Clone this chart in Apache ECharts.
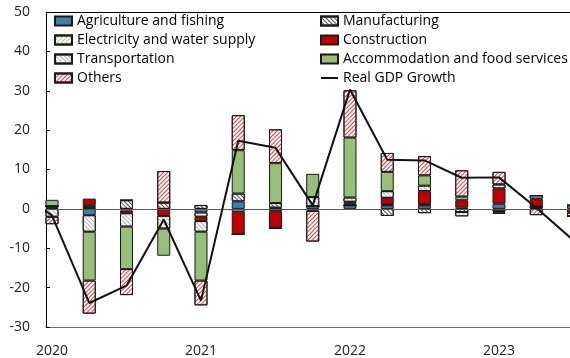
<!DOCTYPE html>
<html>
<head>
<meta charset="utf-8">
<script src="https://cdn.jsdelivr.net/npm/echarts@6/dist/echarts.min.js"></script>
<style>
  html, body { margin: 0; padding: 0; background: #fff; }
  #chart { width: 570px; height: 358px; }
</style>
</head>
<body>
<div id="chart"></div>
<script>
// Quarterly contributions to real GDP growth (percentage points) by sector.
// 2019Q4 only carries the growth line, which runs in from the left edge.
const quarters = ['2019Q4',
  '2020Q1', '2020Q2', '2020Q3', '2020Q4',
  '2021Q1', '2021Q2', '2021Q3', '2021Q4',
  '2022Q1', '2022Q2', '2022Q3', '2022Q4',
  '2023Q1', '2023Q2', '2023Q3'];

const agriculture   = [null, 0.3, -1.6, -0.4, 0, -0.9, 1.9, 0.3, 0.7, 0.9, 0.9, 0.9, 0.3, 1.3, 0.2, 0.9];
const manufacturing = [null, 0.4, 0.4, 2.2, 1.6, 1.0, 2.0, 1.2, 0, 0, -1.8, -1.1, -0.8, -0.6, 0.3, 0];
const electricity   = [null, 0, 0.5, 0, 0, -1.1, -0.7, -0.6, 0, 0.4, 0.2, 0.2, 0, -0.3, 0, 0];
const construction  = [null, 0, 1.7, -0.7, -1.8, -1.1, -5.8, -4.3, -0.5, 0.5, 1.7, 3.4, 1.9, 3.9, 2.1, -1.0];
const transport     = [null, -2.0, -4.2, -3.4, -3.2, -2.7, 0, 0, 2.3, 1.1, 1.7, 1.4, -1.1, 1.0, 0.8, -0.9];
const accommodation = [null, 1.6, -12.4, -10.8, -6.9, -12.4, 11.0, 10.1, 5.9, 15.2, 4.9, 2.6, 0.9, -0.4, 0, 0];
const others        = [null, -1.9, -8.4, -6.6, 8.0, -6.3, 8.9, 8.6, -7.8, 12.0, 4.8, 4.9, 6.7, 3.2, -1.6, 0];
const gdpGrowth     = [5.5, -1.7, -23.9, -19.5, -2.7, -23.3, 17.3, 15.5, 0.9, 30.3, 12.5, 12.3, 7.9, 8.0, 0.3, -8.0];

const yTicks = { min: -30, max: 50, step: 10 };

const FONT = 'Open Sans';

// Bars keep the value in the first column so the stack runs along y;
// the quarter position is encoded onto the numeric x axis.
const barPairs = arr => arr.map((v, i) => [v, i]);
const linePairs = arr => arr.map((v, i) => [i, v]);
const yearStarts = quarters.map((q, i) => q.endsWith('Q1') ? i : -1).filter(i => i >= 0);

function hatch(color, dir, gap) {
  return {
    symbol: 'rect',
    symbolSize: 1,
    color: color,
    dashArrayX: [1, 0],
    dashArrayY: [1, gap],
    rotation: dir * Math.PI / 4
  };
}

const border = { borderColor: '#1a1a1a', borderWidth: 1 };

function barSeries(name, data, style) {
  return {
    name: name,
    type: 'bar',
    stack: 'sectors',
    barWidth: 13,
    data: barPairs(data),
    encode: { x: 1, y: 0 },
    itemStyle: Object.assign({}, border, style),
    emphasis: { disabled: true },
    clip: true
  };
}

const series = [
  barSeries('Agriculture and fishing', agriculture, { color: '#4080a8' }),
  barSeries('Manufacturing', manufacturing, { color: '#ffffff', decal: hatch('#4a4a4a', 1, 1.5) }),
  barSeries('Electricity and water supply', electricity, { color: '#ffffff', decal: hatch('#a9cf8e', -1, 2) }),
  barSeries('Construction', construction, { color: '#c00000' }),
  barSeries('Transportation', transport, { color: '#ffffff', decal: hatch('#b4b4b4', 1, 2) }),
  barSeries('Accommodation and food services', accommodation, { color: '#97bf7a' }),
  barSeries('Others', others, { color: '#ffffff', decal: hatch('#e23a3a', -1, 2) }),
  {
    name: 'Real GDP Growth',
    type: 'line',
    data: linePairs(gdpGrowth),
    symbol: 'none',
    clip: true,
    lineStyle: { color: '#111', width: 2 },
    itemStyle: { color: '#111' },
    emphasis: { disabled: true },
    z: 5,
    markLine: {
      silent: true,
      symbol: 'none',
      label: { show: false },
      lineStyle: { color: '#595959', width: 1, type: 'solid' },
      data: [{ yAxis: 0 }]
    }
  }
];

const xMin = 0.839, xMax = 14.906;

const legendBase = {
  orient: 'vertical',
  top: 14,
  itemWidth: 17,
  itemHeight: 9,
  itemGap: 5,
  padding: 0,
  selectedMode: false,
  textStyle: { fontFamily: FONT, fontSize: 14, color: '#000' }
};

const boxItem = name => ({ name: name, icon: 'rect' });

const option = {
  animation: false,
  grid: { left: 46, right: 0, top: 12, bottom: 30, containLabel: false },
  legend: [
    Object.assign({}, legendBase, {
      left: 54,
      data: ['Agriculture and fishing', 'Electricity and water supply', 'Transportation', 'Others'].map(boxItem)
    }),
    Object.assign({}, legendBase, {
      left: 320,
      data: ['Manufacturing', 'Construction', 'Accommodation and food services'].map(boxItem)
        .concat([{ name: 'Real GDP Growth', itemStyle: { opacity: 0 } }])
    })
  ],
  xAxis: [
    {
      type: 'value',
      min: xMin,
      max: xMax,
      position: 'bottom',
      splitLine: { show: false },
      axisTick: { show: false },
      axisLine: { show: true, onZero: false, lineStyle: { color: '#6e6e6e', width: 1 } },
      axisLabel: {
        customValues: yearStarts,
        formatter: v => quarters[Math.round(v)].slice(0, 4),
        fontFamily: FONT,
        fontSize: 14,
        color: '#222',
        margin: 17
      }
    },
    {
      type: 'value',
      min: xMin,
      max: xMax,
      position: 'top',
      splitLine: { show: false },
      axisTick: { show: false },
      axisLabel: { show: false },
      axisLine: { show: true, onZero: false, lineStyle: { color: '#000', width: 1 } }
    }
  ],
  yAxis: {
    type: 'value',
    min: yTicks.min,
    max: yTicks.max,
    interval: yTicks.step,
    splitLine: { show: false },
    axisLine: { show: true, onZero: false, lineStyle: { color: '#000', width: 1 } },
    axisTick: { show: true, inside: true, length: 4, lineStyle: { color: '#000' } },
    axisLabel: { fontFamily: FONT, fontSize: 14, color: '#222', margin: 16 }
  },
  series: series
};

const chart = echarts.init(document.getElementById('chart'), null, { renderer: 'canvas' });
chart.setOption(option);
</script>
</body>
</html>
